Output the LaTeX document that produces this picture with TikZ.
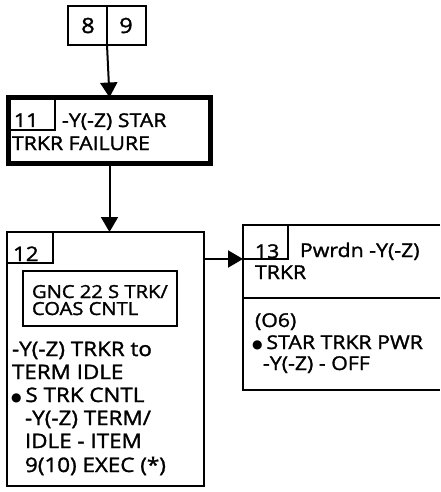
\documentclass[tikz,border=0pt]{standalone}
\usepackage{fontspec}
\setmainfont{Open Sans}[FakeStretch=1.12, FakeBold=1.5]
\newfontfamily\symfont{DejaVu Sans}
\newcommand{\bul}{{\symfont\fontsize{12}{12}\selectfont\raisebox{0.5pt}{●}}\hspace{4pt}}
\usetikzlibrary{arrows.meta}
\tikzset{
  box/.style={draw, line width=2pt, inner sep=0pt, outer sep=0pt, anchor=north west},
  sbox/.style={draw, line width=1.6pt, inner sep=0pt, outer sep=0pt, anchor=north west},
  txt/.style={inner sep=0pt, outer sep=0pt, anchor=base west, text height=14pt, text depth=3pt,
              font=\fontsize{20}{22}\selectfont},
  mtxt/.style={txt, font=\fontsize{19}{22}\selectfont},
  gtxt/.style={txt, text height=13pt, text depth=2pt, font=\fontsize{18}{20}\selectfont},
  arr/.style={line width=2pt, -{Triangle[width=17pt,length=15pt]}},
}
\begin{document}
\begin{tikzpicture}[x=1pt,y=-1pt]
\useasboundingbox[fill=white] (0,0) rectangle (440,492);
% box 8|9
\node[box, minimum width=78pt, minimum height=39pt] (b89) at (68,6) {};
\draw[line width=2pt] (b89.north) -- (b89.south);
\node[inner sep=0pt, font=\fontsize{21}{22}\selectfont] (t8) at (88,25.5) {8};
\node[inner sep=0pt, font=\fontsize{21}{22}\selectfont] (t9) at (126,25.5) {9};
% box 11
\node[draw, line width=5pt, inner sep=0pt, outer sep=0pt, anchor=north west,
      minimum width=202pt, minimum height=66pt] (b11) at (8.5,97.5) {};
\node[sbox, minimum width=46pt, minimum height=32pt] (s11) at (9,98) {};
\node[mtxt] (t11) at (14,127) {11};
\node[mtxt] (t11a) at (62,127) {-Y(-Z) STAR};
\node[mtxt] (t11b) at (12,150) {TRKR FAILURE};
% box 12
\node[box, minimum width=197pt, minimum height=254pt] (b12) at (7,232) {};
\node[sbox, minimum width=46pt, minimum height=31pt] (s12) at (7,232) {};
\node[txt] (t12) at (13,261) {12};
\node[box, minimum width=154pt, minimum height=55pt] (g12) at (23,271) {};
\node[gtxt] (g12a) at (32,298) {GNC 22 S TRK/};
\node[gtxt] (g12b) at (32,315) {COAS CNTL};
\node[txt] (t12a) at (12,356) {-Y(-Z) TRKR to};
\node[txt] (t12b) at (12,379) {TERM IDLE};
\node[txt] (t12c) at (11,402) {\bul S TRK CNTL};
\node[txt] (t12d) at (25,425) {-Y(-Z) TERM/};
\node[txt] (t12e) at (25,448) {IDLE - ITEM};
\node[txt] (t12f) at (25,472) {9(10) EXEC (*)};
% box 13 (runs off the right edge)
\node[inner sep=0pt, outer sep=0pt, anchor=north west,
      minimum width=197pt, minimum height=165pt] (b13) at (243,225) {};
\draw[line width=2pt] (b13.north east) -- (b13.north west) -- (b13.south west) -- (b13.south east);
\draw[line width=2pt] ([yshift=-73pt]b13.north west) -- ([yshift=-73pt]b13.north east);
\node[sbox, minimum width=45pt, minimum height=34pt] (s13) at (243,225) {};
\node[mtxt] (t13) at (255,258) {13};
\node[mtxt] (t13a) at (300,257) {Pwrdn -Y(-Z)};
\node[mtxt] (t13b) at (255,279) {TRKR};
\node[mtxt] (t13c) at (255,327) {(O6)};
\node[mtxt] (t13d) at (252,349) {\bul STAR TRKR PWR};
\node[mtxt] (t13e) at (263,370) {-Y(-Z) - OFF};
% connectors
\draw[arr] (b89.south) -- (b11.north);
\draw[arr] (b11.south) -- (b11.south |- b12.north);
\draw[arr] (b12.east |- s13.south west) -- (s13.south west);
\end{tikzpicture}
\end{document}
